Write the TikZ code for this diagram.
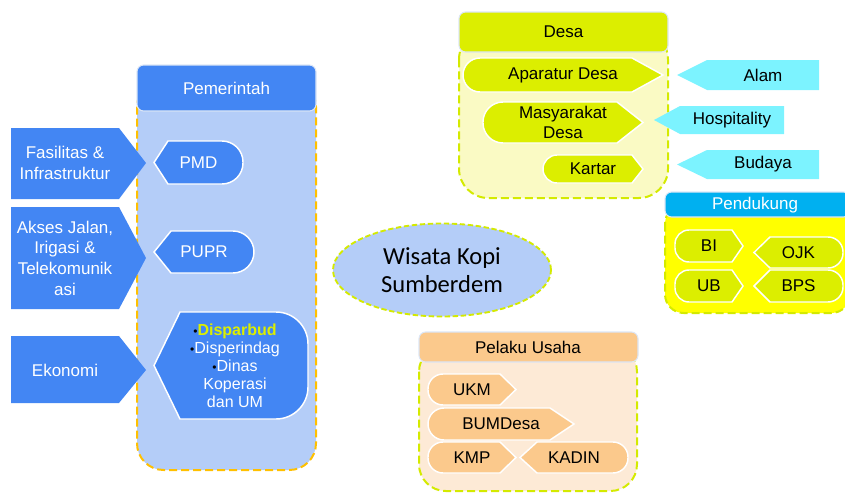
\documentclass[tikz,border=0pt]{standalone}
\usepackage{fontspec}
\setmainfont{Liberation Sans}
\newfontfamily\calibrifont{Carlito}
\usetikzlibrary{shapes.geometric}
\definecolor{dblue}{HTML}{4386F3}
\definecolor{lblue}{HTML}{B4CDF8}
\definecolor{orng}{HTML}{FFC000}
\definecolor{ygreen}{HTML}{DCEE00}
\definecolor{ydash}{HTML}{D4EA00}
\definecolor{lyellow}{HTML}{FAFAC4}
\definecolor{cyanc}{HTML}{7CF3FF}
\definecolor{pblue}{HTML}{00B0F0}
\definecolor{pyel}{HTML}{FFFF00}
\definecolor{porng}{HTML}{FBC98C}
\definecolor{lorng}{HTML}{FDEAD6}
\definecolor{hdrline}{HTML}{DCE6F6}
\newcommand\mypentR[9]{%
 \pgfmathsetmacro\myYm{(#4+#6)/2}%
 \pgfmathsetmacro\myXa{#3+#8}%
 \pgfmathsetmacro\myXb{#3+0.4477*#8}%
 \pgfmathsetmacro\myYb{#6-#8}%
 \pgfmathsetmacro\myYbc{#6-0.4477*#8}%
 \pgfmathsetmacro\myYt{#4+#8}%
 \pgfmathsetmacro\myYtc{#4+0.4477*#8}%
 \path[#1] (#7,#4) -- (#5,\myYm) -- (#7,#6) -- (\myXa,#6) .. controls (\myXb,#6) and (#3,\myYbc) .. (#3,\myYb) -- (#3,\myYt) .. controls (#3,\myYtc) and (\myXb,#4) .. (\myXa,#4) -- cycle;
 \pgfmathsetmacro\myXc{(#3+#5)/2}%
 \node[#1 txt] (#2) at (\myXc,\myYm) {#9};%
}
\newcommand\mypentL[9]{%
 \pgfmathsetmacro\myYm{(#4+#6)/2}%
 \pgfmathsetmacro\myXa{#5-#8}%
 \pgfmathsetmacro\myXb{#5-0.4477*#8}%
 \pgfmathsetmacro\myYb{#6-#8}%
 \pgfmathsetmacro\myYbc{#6-0.4477*#8}%
 \pgfmathsetmacro\myYt{#4+#8}%
 \pgfmathsetmacro\myYtc{#4+0.4477*#8}%
 \path[#1] (#7,#4) -- (#3,\myYm) -- (#7,#6) -- (\myXa,#6) .. controls (\myXb,#6) and (#5,\myYbc) .. (#5,\myYb) -- (#5,\myYt) .. controls (#5,\myYtc) and (\myXb,#4) .. (\myXa,#4) -- cycle;
 \pgfmathsetmacro\myXc{(#3+#5)/2}%
 \node[#1 txt] (#2) at (\myXc,\myYm) {#9};%
}
\newcommand\mybul{{\color{black}\fontsize{9}{9}\selectfont\textbullet}}
\tikzset{
 basetxt/.style={font=\fontsize{12.75}{15.5}\selectfont, align=center, inner sep=0pt},
 hdr/.style={rounded corners=5pt, draw=hdrline, line width=0.8pt},
 body/.style={rounded corners=18pt, dashed, dash pattern=on 6pt off 3pt, line width=1.5pt},
 blueshape/.style={fill=dblue, draw=white, line width=1.1pt},
 blueshape txt/.style={basetxt, text=white},
 arrowblue/.style={fill=dblue},
 greenshape/.style={fill=ygreen, draw=white, line width=1.1pt},
 greenshape txt/.style={basetxt, text=black},
 orshape/.style={fill=porng, draw=white, line width=1.1pt},
 orshape txt/.style={basetxt, text=black},
 cyanshape/.style={fill=cyanc},
}
\begin{document}
\begin{tikzpicture}[x=0.75pt,y=-0.75pt]
\useasboundingbox (0,0) rectangle (845,493);
% ---------- Pemerintah ----------
\path[body, rounded corners=20pt, fill=lblue, draw=orng] (137,80) rectangle (316,470);
\path[hdr, fill=dblue] (137,65) rectangle (316,111);
\node[basetxt, text=white] (pem) at (226.5,88) {Pemerintah};
% left arrows
\path[arrowblue] (11,128) -- (119,128) -- (146,163) -- (119,199) -- (11,199) -- cycle;
\node[basetxt, text=white] (fas) at (65,163) {Fasilitas \&\\Infrastruktur};
\path[arrowblue] (11,207) -- (119,207) -- (146,258) -- (119,309) -- (11,309) -- cycle;
\node[basetxt, text=white] (akses) at (65,258) {Akses Jalan,\\Irigasi \&\\Telekomunik\\asi};
\path[arrowblue] (11,336) -- (119,336) -- (146,370) -- (119,403) -- (11,403) -- cycle;
\node[basetxt, text=white] (eko) at (65,370) {Ekonomi};
% inner
\mypentL{blueshape}{pmd}{154}{141}{243}{184}{168}{21}{PMD}
\mypentL{blueshape}{pupr}{154}{231}{254}{273}{171}{21}{PUPR}
\mypentL{blueshape}{disp}{154}{312}{308}{419}{180}{32}{}
\node[basetxt, text=white, font=\fontsize{12}{13.5}\selectfont] (displist) at (235,366)
 {\mybul{\color{ygreen}\bfseries Disparbud}\\
  \mybul Disperindag\\
  \mybul Dinas\\ Koperasi\\ dan UM};
% ---------- Desa ----------
\path[body, rounded corners=22pt, fill=lyellow, draw=ydash] (459,30) rectangle (668,198);
\path[hdr, fill=ygreen] (459,12) rectangle (668,52);
\node[basetxt] (desa) at (563.5,32) {Desa};
\mypentR{greenshape}{apar}{463}{58}{663}{92}{632}{17}{Aparatur Desa}
\mypentR{greenshape}{masy}{483}{102}{643}{143}{617}{20}{Masyarakat\\Desa}
\mypentR{greenshape}{kart}{543}{155}{643}{183}{632}{14}{Kartar}
% cyan arrows
\path[cyanshape] (819,60) -- (707,60) -- (677,75) -- (707,90) -- (819,90) -- cycle;
\node[basetxt] (alam) at (763,75) {Alam};
\path[cyanshape] (784,106) -- (680,106) -- (654,120) -- (680,134) -- (784,134) -- cycle;
\node[basetxt] (hosp) at (732,120) {Hospitality};
\path[cyanshape] (819,150) -- (707,150) -- (677,164.5) -- (707,179) -- (819,179) -- cycle;
\node[basetxt] (bud) at (763,164.5) {Budaya};
% ---------- Pendukung ----------
\path[body, rounded corners=14pt, fill=pyel, draw=ydash] (665,205) rectangle (850,313);
\path[hdr, fill=pblue] (665,192) rectangle (850,217);
\node[basetxt, text=white] (pend) at (755,205) {Pendukung};
\mypentR{greenshape}{bi}{675}{230}{743}{262}{732}{14}{BI}
\mypentR{greenshape}{ub}{675}{270}{743}{302}{732}{14}{UB}
\mypentL{greenshape}{ojk}{754}{237}{843}{268}{770}{15}{OJK}
\mypentL{greenshape}{bps}{754}{270}{843}{302}{770}{15}{BPS}
% ---------- Ellipse ----------
\node[ellipse, minimum width=163.5pt, minimum height=69.75pt, inner sep=0pt, fill=lblue, draw=ydash, dashed, dash pattern=on 4pt off 2pt, line width=1.4pt, align=center, font=\calibrifont\fontsize{18.4}{20.5}\selectfont] (wis) at (442,270) {Wisata Kopi\\Sumberdem};
% ---------- Pelaku Usaha ----------
\path[body, rounded corners=20pt, fill=lorng, draw=ydash] (419,345) rectangle (637,491);
\path[hdr, fill=porng] (419,332) rectangle (638,362);
\node[basetxt] (pel) at (528,347) {Pelaku Usaha};
\mypentR{orshape}{ukm}{428}{374}{516}{405}{500}{15}{UKM}
\mypentR{orshape}{bum}{428}{408}{574}{440}{550}{16}{BUMDesa}
\mypentR{orshape}{kmp}{428}{442}{516}{473}{500}{15}{KMP}
\mypentL{orshape}{kadin}{520}{442}{628}{473}{537}{15}{KADIN}
\end{tikzpicture}
\end{document}
